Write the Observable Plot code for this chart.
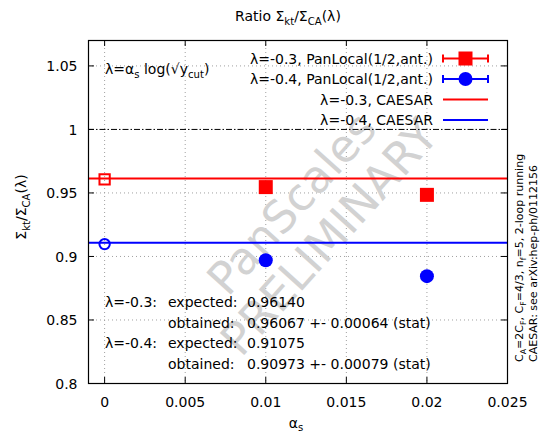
<!DOCTYPE html>
<html><head><meta charset="utf-8">
<script src="https://cdn.jsdelivr.net/npm/d3@7"></script>
<script src="https://cdn.jsdelivr.net/npm/@observablehq/plot@0.6"></script>
<style>
body{margin:0;background:#fff}
svg{font-family:"DejaVu Sans",sans-serif}
</style>
</head><body><div id="chart"></div>
<script>
// ---- data ----
const alphaS = [0.01, 0.02];
const ratioL03 = [0.9546, 0.9485];
const errL03 = [0.0007, 0.0007];
const ratioL04 = [0.8970, 0.8845];
const errL04 = [0.0008, 0.0008];
const extrapX = [0];
const extrapL03 = [0.96067];
const extrapErrL03 = [0.00064];
const extrapL04 = [0.90973];
const extrapErrL04 = [0.00079];
const caesarL03 = [0.96140];
const caesarL04 = [0.91075];
const referenceOne = [1];
const xTicks = [0, 0.005, 0.01, 0.015, 0.02, 0.025];
const xTickLabels = ["0", "0.005", "0.01", "0.015", "0.02", "0.025"];
const yTicks = [0.8, 0.85, 0.9, 0.95, 1, 1.05];
const yTickLabels = ["0.8", "0.85", "0.9", "0.95", "1", "1.05"];
const legendLabels = ["λ=-0.3, PanLocal(1/2,ant.)", "λ=-0.4, PanLocal(1/2,ant.)", "λ=-0.3, CAESAR", "λ=-0.4, CAESAR"];
const legendColors = ["red", "blue", "red", "blue"];
const legendKinds = ["square", "circle", "line", "line"];

// ---- layout ----
const W = 540, H = 435, mL = 88, mR = 33, mT = 40, mB = 52;
const innerW = W - mL - mR, innerH = H - mT - mB;

const pts03 = alphaS.map((x, i) => ({x, y: ratioL03[i], e: errL03[i]}));
const pts04 = alphaS.map((x, i) => ({x, y: ratioL04[i], e: errL04[i]}));
const ex03 = extrapX.map((x, i) => ({x, y: extrapL03[i], e: extrapErrL03[i]}));
const ex04 = extrapX.map((x, i) => ({x, y: extrapL04[i], e: extrapErrL04[i]}));

const gridStyle = {stroke: "#a0a0a0", strokeWidth: 1, strokeDasharray: "1,3"};

const chart = Plot.plot({
  width: W, height: H,
  marginLeft: mL, marginRight: mR, marginTop: mT, marginBottom: mB,
  style: {fontSize: "14px", fontFamily: "DejaVu Sans, sans-serif", background: "white", color: "black"},
  x: {domain: [-0.001, 0.025]},
  y: {domain: [0.8, 1.07]},
  marks: [
    Plot.ruleX(xTicks.slice(0, -1), {x: d => d, ...gridStyle}),
    Plot.ruleY(yTicks.filter(d => d !== 0.8 && d !== 1), {y: d => d, ...gridStyle}),
    Plot.text(["PanScales\nPRELIMINARY"], {frameAnchor: "middle", text: d => d, rotate: -48, fontSize: 45,
      lineHeight: 1.12, fill: "#d2d2d2", textAnchor: "middle", lineAnchor: "middle", dx: 12, dy: 8}),
    Plot.ruleY(referenceOne, {y: d => d, stroke: "black", strokeWidth: 1, strokeDasharray: "6,2,1.5,2"}),
    Plot.ruleY(caesarL03, {y: d => d, stroke: "red", strokeWidth: 2}),
    Plot.ruleY(caesarL04, {y: d => d, stroke: "blue", strokeWidth: 2}),
    Plot.ruleX(pts03, {x: "x", y1: d => d.y - d.e, y2: d => d.y + d.e, stroke: "red", strokeWidth: 2}),
    Plot.ruleX(pts04, {x: "x", y1: d => d.y - d.e, y2: d => d.y + d.e, stroke: "blue", strokeWidth: 2}),
    Plot.dot(pts03, {x: "x", y: "y", symbol: "square", r: 7.9, fill: "red"}),
    Plot.dot(pts04, {x: "x", y: "y", symbol: "circle", r: 7, fill: "blue"}),
    Plot.dot(ex03, {x: "x", y: "y", symbol: "square", r: 5.8, fill: "none", stroke: "red", strokeWidth: 2}),
    Plot.dot(ex04, {x: "x", y: "y", symbol: "circle", r: 5.2, fill: "none", stroke: "blue", strokeWidth: 2}),
    // inward ticks on all four sides
    Plot.tickX(xTicks, {x: d => d, insetTop: innerH - 6, stroke: "black"}),
    Plot.tickX(xTicks, {x: d => d, insetBottom: innerH - 6, stroke: "black"}),
    Plot.tickY(yTicks, {y: d => d, insetLeft: innerW - 6, stroke: "black"}),
    Plot.tickY(yTicks, {y: d => d, insetRight: innerW - 6, stroke: "black"}),
    Plot.axisX({ticks: xTicks, tickFormat: d => xTickLabels[xTicks.indexOf(d)], tickSize: 0, tickPadding: 14, label: null, fontSize: 14}),
    Plot.axisY({ticks: yTicks, tickFormat: d => yTickLabels[yTicks.indexOf(d)], tickSize: 0, tickPadding: 11, label: null, dy: 1, fontSize: 14}),
    Plot.frame({stroke: "black", strokeWidth: 1.2})
  ]
});
document.getElementById("chart").appendChild(chart);

// ---- annotations ----
const svg = d3.select(chart);
function rich(g, x, y, parts, opts = {}) {
  const fs = opts.fontSize || 14;
  const t = g.append("text").attr("x", x).attr("y", y)
    .attr("font-size", fs).attr("fill", "black")
    .attr("text-anchor", opts.anchor || "start");
  if (opts.rotate) t.attr("transform", `rotate(${opts.rotate},${x},${y})`);
  let shifted = 0;
  const subFs = fs * 0.72, shift = fs * (opts.subShift || 0.28);
  for (const p of parts) {
    const isSub = Array.isArray(p);
    const s = t.append("tspan").text(isSub ? p[0] : p);
    if (isSub) {
      s.attr("font-size", subFs).attr("dy", shift - shifted); shifted = shift;
    } else {
      s.attr("dy", -shifted); shifted = 0;
    }
  }
  return t;
}
const ann = svg.append("g");
rich(ann, 288, 21, ["Ratio Σ", ["kt"], "/Σ", ["CA"], "(λ)"], {anchor: "middle"});
rich(ann, 26, 207, ["Σ", ["kt"], "/Σ", ["CA"], "(λ)"], {anchor: "middle", rotate: -90});
rich(ann, 296, 428, ["α", ["s"]], {anchor: "middle", subShift: 0.2});
rich(ann, 105, 74, ["λ=α", ["s"], " log(√y", ["cut"], ")"]);
rich(ann, 523, 362, ["C", ["A"], "=2C", ["F"], ", C", ["F"], "=4/3, n", ["f"], "=5, 2-loop running"], {fontSize: 11, rotate: -90});
rich(ann, 536.5, 362, ["CAESAR: see arXiv:hep-ph/0112156"], {fontSize: 11, rotate: -90});

const f5 = v => v.toFixed(5);
const rows = [
  [307, "λ=-0.3:", "expected:", f5(caesarL03[0])],
  [327.5, "", "obtained:", `${f5(extrapL03[0])} +- ${f5(extrapErrL03[0])} (stat)`],
  [348, "λ=-0.4:", "expected:", f5(caesarL04[0])],
  [368.5, "", "obtained:", `${f5(extrapL04[0])} +- ${f5(extrapErrL04[0])} (stat)`]
];
for (const [y, a, b, c] of rows) {
  if (a) rich(ann, 105, y, [a]);
  rich(ann, 168, y, [b]);
  rich(ann, 247, y, [c]);
}

// legend
const lg = svg.append("g");
const legBase = [63.5, 84, 104.5, 125];
legendLabels.forEach((lab, i) => {
  const yb = legBase[i], yc = yb - 5;
  rich(lg, 433, yb, [lab], {anchor: "end"});
  const col = legendColors[i];
  lg.append("line").attr("x1", 443).attr("x2", 488).attr("y1", yc).attr("y2", yc)
    .attr("stroke", col).attr("stroke-width", 2);
  if (legendKinds[i] !== "line") {
    for (const xx of [443, 488]) lg.append("line").attr("x1", xx).attr("x2", xx)
      .attr("y1", yc - 4).attr("y2", yc + 4).attr("stroke", col).attr("stroke-width", 2);
    if (legendKinds[i] === "square") lg.append("rect").attr("x", 465.5 - 7).attr("y", yc - 7)
      .attr("width", 14).attr("height", 14).attr("fill", col);
    else lg.append("circle").attr("cx", 465.5).attr("cy", yc).attr("r", 7).attr("fill", col);
  }
});
</script>
</body></html>
